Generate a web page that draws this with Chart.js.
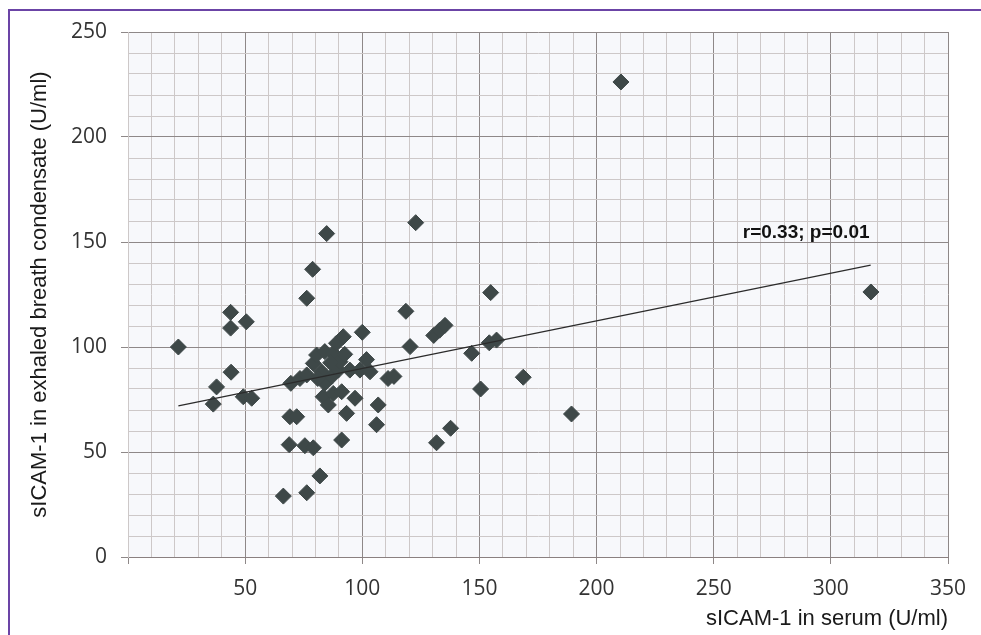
<!DOCTYPE html>
<html>
<head>
<meta charset="utf-8">
<script src="https://cdn.jsdelivr.net/npm/chart.js@4"></script>
<style>
  html, body { margin: 0; padding: 0; background: #ffffff; }
  #wrap { width: 981px; height: 635px; position: relative; }
</style>
</head>
<body>
<div id="wrap"><canvas id="c" width="981" height="635"></canvas></div>
<script>
// sICAM-1 in serum (U/ml)
const serumX = [
  21.5, 36.4, 37.8, 43.8, 43.8, 50.5, 44.0, 49.2, 52.8,
  66.3, 76.3, 81.9, 68.8, 75.5, 79.1, 91.2, 69.1, 72.0,
  84.8, 78.8, 76.3,
  69.5, 73.4, 76.3, 79.1, 80.5, 82.6, 84.0, 84.0, 86.9, 87.6, 89.0, 89.8, 90.5, 91.9,
  81.0, 86.5, 92.5,
  83.3, 85.5, 87.6, 91.2, 93.3, 94.7, 96.9, 99.0, 100.0, 101.8, 103.3, 106.8, 106.1, 111.0, 113.5,
  118.6, 120.4, 122.8, 130.5, 133.0, 135.3, 131.7, 137.7, 146.7, 150.5, 154.2, 157.3, 154.8,
  168.7, 189.3, 210.4, 317.1
];
// sICAM-1 in exhaled breath condensate (U/ml)
const ebcY = [
  100.0, 72.8, 81.0, 116.5, 109.0, 112.0, 88.0, 76.3, 75.6,
  29.0, 30.6, 38.6, 53.5, 53.0, 52.0, 55.7, 66.8, 66.8,
  154.0, 137.0, 123.2,
  82.7, 85.0, 86.7, 92.2, 96.2, 88.2, 97.8, 82.7, 85.9, 97.0, 101.8, 89.0, 93.0, 104.9,
  85.0, 92.5, 96.5,
  76.3, 72.4, 77.9, 78.7, 68.4, 89.0, 75.6, 89.0, 107.0, 94.0, 88.2, 72.4, 63.0, 85.0, 86.0,
  117.0, 100.2, 159.2, 105.5, 108.0, 110.3, 54.4, 61.3, 97.0, 80.0, 102.0, 103.3, 125.9,
  85.6, 68.1, 226.2, 126.2
];
// regression line end points
const trendX = [21.5, 317.0];
const trendY = [72.0, 139.0];

const xTickLabels = [50, 100, 150, 200, 250, 300, 350];
const yTickLabels = [0, 50, 100, 150, 200, 250];
const annotationText = 'r=0.33; p=0.01';
const annotationAt = { x: 316.5, y: 154.5 };

const MAJOR = '#8e8888';
const MINOR = '#cdc8c8';
const MARK = '#3e4848';

const points = serumX.map((x, i) => ({ x: x, y: ebcY[i] }));
const trend = trendX.map((x, i) => ({ x: x, y: trendY[i] }));

const decor = {
  id: 'decor',
  beforeDraw(chart) {
    const { ctx, chartArea: a } = chart;
    ctx.save();
    ctx.fillStyle = '#ffffff';
    ctx.fillRect(0, 0, chart.width, chart.height);
    ctx.fillStyle = '#f7f8fb';
    ctx.fillRect(a.left, a.top, a.right - a.left, a.bottom - a.top);
    ctx.restore();
  },
  afterDatasetsDraw(chart) {
    const { ctx, scales } = chart;
    ctx.save();
    ctx.font = 'bold 19px "Liberation Sans", Arial, sans-serif';
    ctx.fillStyle = '#111111';
    ctx.textAlign = 'right';
    ctx.textBaseline = 'middle';
    ctx.fillText(annotationText, scales.x.getPixelForValue(annotationAt.x), scales.y.getPixelForValue(annotationAt.y));
    ctx.restore();
  },
  afterDraw(chart) {
    const { ctx } = chart;
    ctx.save();
    ctx.strokeStyle = '#6b44a6';
    ctx.lineWidth = 2;
    ctx.beginPath();
    ctx.moveTo(9, chart.height);
    ctx.lineTo(9, 10);
    ctx.lineTo(chart.width, 10);
    ctx.stroke();
    ctx.restore();
  }
};

const gridColor = (c) => (c.tick && c.tick.value % 50 === 0 ? MAJOR : MINOR);
const tickColor = (c) => (c.tick && c.tick.value % 50 === 0 ? MAJOR : 'rgba(0,0,0,0)');

new Chart(document.getElementById('c'), {
  data: {
    datasets: [
      {
        type: 'line',
        data: trend,
        borderColor: '#2b2b2b',
        borderWidth: 1.3,
        pointRadius: 0,
        fill: false,
        order: 0
      },
      {
        type: 'scatter',
        data: points,
        pointStyle: 'rectRot',
        pointRadius: 8,
        pointHoverRadius: 8,
        backgroundColor: MARK,
        borderColor: MARK,
        borderWidth: 1,
        order: 1
      }
    ]
  },
  options: {
    responsive: false,
    animation: false,
    devicePixelRatio: 1,
    layout: { padding: { top: 32, right: 33, bottom: 0, left: 0 } },
    plugins: { legend: { display: false }, tooltip: { enabled: false } },
    scales: {
      x: {
        type: 'linear',
        min: 0, max: 350,
        afterFit(s) { s.height = 78; },
        ticks: {
          stepSize: 10, autoSkip: false, maxRotation: 0, padding: 12,
          color: '#333333',
          font: { family: '"Open Sans", sans-serif', size: 21 },
          callback: (v) => (xTickLabels.includes(v) ? String(v) : '')
        },
        grid: { color: gridColor, tickColor: tickColor, tickLength: 7, lineWidth: 1 },
        border: { display: true, color: '#8a8080' },
        title: {
          display: true, text: 'sICAM-1 in serum (U/ml)', align: 'end',
          color: '#1a1a1a',
          font: { family: '"Liberation Sans", Arial, sans-serif', size: 22 },
          padding: { top: 0, bottom: 3 }
        }
      },
      y: {
        type: 'linear',
        min: 0, max: 250,
        afterFit(s) { s.width = 128; },
        ticks: {
          stepSize: 10, autoSkip: false, padding: 14,
          color: '#333333',
          font: { family: '"Open Sans", sans-serif', size: 21 },
          callback: (v) => (yTickLabels.includes(v) ? String(v) : '')
        },
        grid: { color: gridColor, tickColor: tickColor, tickLength: 7, lineWidth: 1 },
        border: { display: true, color: MINOR },
        title: {
          display: true, text: 'sICAM-1 in exhaled breath condensate (U/ml)',
          color: '#1a1a1a',
          font: { family: '"Liberation Sans", Arial, sans-serif', size: 22 },
          padding: { top: 27, bottom: 0 }
        }
      }
    }
  },
  plugins: [decor]
});
</script>
</body>
</html>
